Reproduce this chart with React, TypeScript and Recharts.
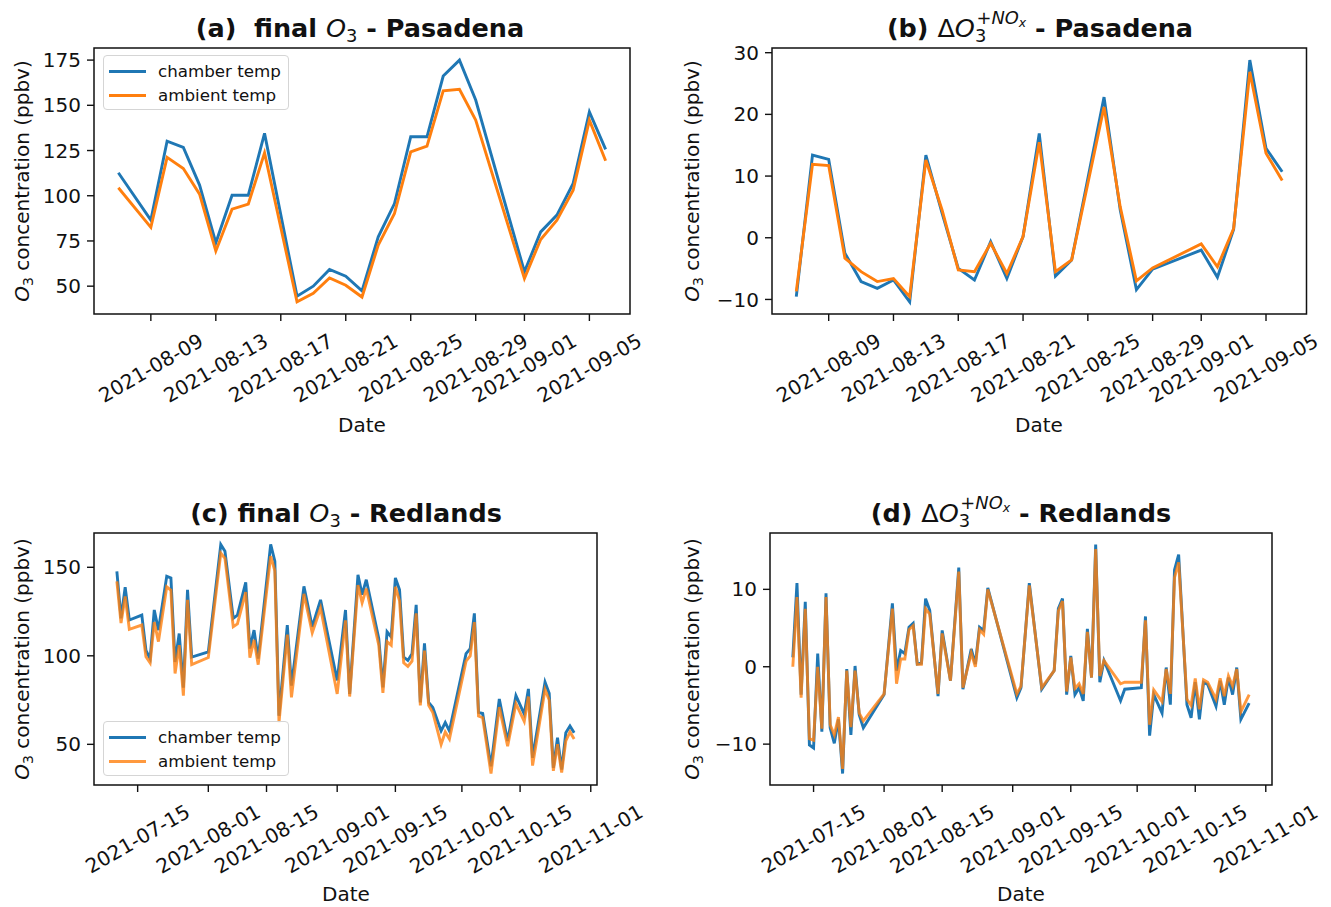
import React from 'react';
import { LineChart, Line, XAxis, YAxis, ReferenceArea } from 'recharts';

const BLUE = '#1f77b4';
const ORANGE = '#ff7f0e';
const INK = '#111';

// (a) final O3 - Pasadena
const pasDatesA = [
  '2021-08-07', '2021-08-09', '2021-08-10', '2021-08-11', '2021-08-12', '2021-08-13', '2021-08-14',
  '2021-08-15', '2021-08-16', '2021-08-18', '2021-08-19', '2021-08-20', '2021-08-21', '2021-08-22',
  '2021-08-23', '2021-08-24', '2021-08-25', '2021-08-26', '2021-08-27', '2021-08-28', '2021-08-29',
  '2021-09-01', '2021-09-02', '2021-09-03', '2021-09-04', '2021-09-05', '2021-09-06',
];
const pasChamberA = [112.7, 86.5, 130.2, 126.7, 105.9, 74, 100.3, 100.3, 134.5, 44.5, 50, 59.2, 55.5, 47.4, 77.3, 95.7, 132.6, 132.6, 166.2, 175, 152.9, 58, 80, 89.3, 106.8, 146.4, 125.6];
const pasAmbientA = [104.4, 82.5, 121.2, 115.1, 100.9, 69.5, 92.6, 95.4, 123.7, 41.3, 46, 54.6, 50.5, 44, 72.7, 90.2, 124.3, 127.4, 158, 158.8, 141.8, 54.3, 75.8, 86.5, 103, 141.8, 119.3];

// (b) delta O3 +NOx - Pasadena
const pasDatesB = [
  '2021-08-07', '2021-08-08', '2021-08-09', '2021-08-10', '2021-08-11', '2021-08-12', '2021-08-13',
  '2021-08-14', '2021-08-15', '2021-08-16', '2021-08-17', '2021-08-18', '2021-08-19', '2021-08-20',
  '2021-08-21', '2021-08-22', '2021-08-23', '2021-08-24', '2021-08-25', '2021-08-26', '2021-08-27',
  '2021-08-28', '2021-08-29', '2021-09-01', '2021-09-02', '2021-09-03', '2021-09-04', '2021-09-05',
  '2021-09-06',
];
const pasChamberB = [-9.55, 13.4, 12.7, -2.5, -7.1, -8.2, -6.85, -10.4, 13.4, 4.0, -4.96, -6.85, -0.65, -6.6, 0.2, 16.9, -6.2, -3.6, 9.6, 22.8, 4.5, -8.4, -5.1, -2, -6.4, 1.35, 28.8, 14.5, 10.7];
const pasAmbientB = [-8.7, 11.9, 11.7, -3.3, -5.5, -7.1, -6.6, -9.55, 12.6, 4.5, -5.2, -5.5, -0.9, -5.8, 0.2, 15.5, -5.5, -3.6, 8.8, 21.2, 5.0, -7.0, -4.9, -1.0, -4.7, 1.5, 26.9, 13.7, 9.3];

// (c) final O3 - Redlands
const redDatesC = [
  '2021-07-10', '2021-07-11', '2021-07-12', '2021-07-13', '2021-07-16', '2021-07-17', '2021-07-18',
  '2021-07-19', '2021-07-20', '2021-07-22', '2021-07-23', '2021-07-24', '2021-07-25', '2021-07-26',
  '2021-07-27', '2021-07-28', '2021-08-01', '2021-08-04', '2021-08-05', '2021-08-07', '2021-08-08',
  '2021-08-10', '2021-08-11', '2021-08-12', '2021-08-13', '2021-08-16', '2021-08-17', '2021-08-18',
  '2021-08-20', '2021-08-21', '2021-08-24', '2021-08-26', '2021-08-28', '2021-09-01', '2021-09-03',
  '2021-09-04', '2021-09-06', '2021-09-07', '2021-09-08', '2021-09-11', '2021-09-12', '2021-09-13',
  '2021-09-14', '2021-09-15', '2021-09-16', '2021-09-17', '2021-09-18', '2021-09-19', '2021-09-20',
  '2021-09-21', '2021-09-22', '2021-09-23', '2021-09-24', '2021-09-26', '2021-09-27', '2021-09-28',
  '2021-10-02', '2021-10-03', '2021-10-04', '2021-10-05', '2021-10-06', '2021-10-08', '2021-10-10',
  '2021-10-12', '2021-10-14', '2021-10-16', '2021-10-17', '2021-10-18', '2021-10-21', '2021-10-22',
  '2021-10-23', '2021-10-24', '2021-10-25', '2021-10-26', '2021-10-27', '2021-10-28',
];
const redChamberC = [
  147.7, 121.2, 138.8, 120.2, 123, 103, 98.4, 125.9, 114.5, 144.9, 144, 96.5, 112.6, 82, 137.3, 99.3,
  102.2, 162.9, 159.1, 121.2, 123, 141.5, 104.1, 114.5, 98.4, 162.9, 153.4, 66.1, 117.4, 83.2, 139.2,
  116.4, 131.6, 86.1, 125.9, 78.5, 145.8, 134.5, 143, 109.8, 82.2, 113.6, 110.7, 144, 137.3, 99.3, 97.4,
  101.2, 128.8, 73.7, 107, 73.7, 70.8, 57.6, 62.3, 57.6, 101.2, 104.1, 124, 68, 67.4, 37.6, 75.6, 51.9,
  77.5, 67.1, 81.3, 42.4, 85.1, 78.8, 36.7, 53.8, 35.8, 56.6, 60.4, 56.6,
];
const redAmbientC = [
  142, 118.5, 133.5, 115, 117.4, 99.5, 96, 119, 108, 139, 137, 90, 106, 77.5, 131.6, 95,
  99, 158, 155, 116.4, 118, 136, 99, 109, 95, 156.3, 148, 62.3, 112, 76.5, 135,
  113, 127, 78.5, 120, 77, 140, 130, 138, 106, 79, 108, 106, 139, 131, 96, 94,
  97, 124, 72, 103, 72, 68, 50, 57, 53, 97, 100, 119, 66, 65, 33.5, 71, 49,
  73, 63, 77, 38, 81, 75, 35, 50, 34, 52, 57, 53,
];

// (d) delta O3 +NOx - Redlands
const redDatesD = [
  '2021-07-10', '2021-07-11', '2021-07-12', '2021-07-13', '2021-07-14', '2021-07-15', '2021-07-16',
  '2021-07-17', '2021-07-18', '2021-07-19', '2021-07-20', '2021-07-21', '2021-07-22', '2021-07-23',
  '2021-07-24', '2021-07-25', '2021-07-26', '2021-07-27', '2021-08-01', '2021-08-03', '2021-08-04',
  '2021-08-05', '2021-08-06', '2021-08-07', '2021-08-08', '2021-08-09', '2021-08-10', '2021-08-11',
  '2021-08-12', '2021-08-14', '2021-08-15', '2021-08-17', '2021-08-19', '2021-08-20', '2021-08-22',
  '2021-08-23', '2021-08-24', '2021-08-25', '2021-08-26', '2021-09-02', '2021-09-03', '2021-09-05',
  '2021-09-08', '2021-09-11', '2021-09-12', '2021-09-13', '2021-09-14', '2021-09-15', '2021-09-16',
  '2021-09-17', '2021-09-18', '2021-09-19', '2021-09-20', '2021-09-21', '2021-09-22', '2021-09-23',
  '2021-09-27', '2021-09-28', '2021-10-02', '2021-10-03', '2021-10-04', '2021-10-05', '2021-10-07',
  '2021-10-08', '2021-10-09', '2021-10-10', '2021-10-11', '2021-10-13', '2021-10-14', '2021-10-15',
  '2021-10-16', '2021-10-17', '2021-10-18', '2021-10-20', '2021-10-21', '2021-10-22', '2021-10-23',
  '2021-10-24', '2021-10-25', '2021-10-26', '2021-10-28',
];
const redChamberD = [
  1.2, 10.8, -3.6, 8.4, -10.1, -10.5, 1.7, -8.4, 9.5, -7.9, -9.9, -6.8, -13.8, -0.3, -8.8, 0.1, -6.2, -7.9,
  -3.6, 8.2, -0.5, 2.1, 1.7, 5.1, 5.6, 0.35, 0.45, 8.8, 7.3, -3.8, 4.7, -1.8, 12.8, -2.9, 2.3, 0.35, 5.1,
  4.7, 10.2, -4.0, -2.7, 10.8, -2.9, -0.5, 7.5, 8.8, -3.6, 1.4, -3.6, -2.7, -4.4, 4.9, -1.4, 15.8, -2.0,
  0.8, -4.4, -2.9, -2.7, 6.5, -8.9, -3.6, -6.0, -0.1, -4.9, 12.5, 14.5, -4.9, -6.6, -2.0, -6.8, -2.0,
  -2.3, -5.1, -1.8, -4.9, -1.4, -3.6, -0.1, -6.8, -4.7,
];
const redAmbientD = [
  0, 9, -4, 7.5, -9.3, -9.5, 0, -8, 9, -7.5, -8.8, -6.5, -13.2, -0.5, -7.8, -0.5, -6, -7,
  -3.5, 7.5, -2.2, 1, 1, 4.8, 5.3, 0.3, 0.3, 7.5, 6.8, -3.5, 4.3, -1.8, 12.3, -2.7, 1.8, 0, 4.8,
  4.2, 10, -3.5, -2.5, 10.5, -2.7, -0.5, 7.2, 8.5, -3.2, 1.2, -2.8, -2.2, -3.5, 4.5, -1.4, 15.2, -1.2,
  0.8, -2.2, -2.0, -2.0, 6.0, -7.5, -3.0, -4.5, -0.3, -3.5, 11.5, 13.5, -4.2, -5.0, -1.5, -5.5, -1.7,
  -2.0, -4.2, -1.5, -3.8, -1.2, -2.5, -0.3, -5.8, -3.6,
];

const pasTicks = ['2021-08-09', '2021-08-13', '2021-08-17', '2021-08-21', '2021-08-25', '2021-08-29', '2021-09-01', '2021-09-05'];
const redTicks = ['2021-07-15', '2021-08-01', '2021-08-15', '2021-09-01', '2021-09-15', '2021-10-01', '2021-10-15', '2021-11-01'];
const yTicksA = [50, 75, 100, 125, 150, 175];
const yTicksB = [-10, 0, 10, 20, 30];
const yTicksC = [50, 100, 150];
const yTicksD = [-10, 0, 10];

const toDay = (s: string) => {
  const [y, m, d] = s.split('-').map(Number);
  return Date.UTC(y, m - 1, d) / 86400000;
};
const fmtDay = (t: number) => new Date(Math.round(t) * 86400000).toISOString().slice(0, 10);
const fmtNum = (v: number) => (v < 0 ? '\u2212' + Math.abs(v) : String(v));

// matplotlib-like 5% auto margins
const pad = (vals: number[]): [number, number] => {
  const lo = Math.min(...vals);
  const hi = Math.max(...vals);
  const m = (hi - lo) * 0.05;
  return [lo - m, hi + m];
};

const DateTick = (props: any) => {
  const { x, y, payload } = props;
  const cy = y + 47;
  return (
    <text x={x} y={cy} textAnchor="middle" dominantBaseline="central" transform={`rotate(-30 ${x} ${cy})`} fontSize={20} fill={INK}>
      {fmtDay(payload.value)}
    </text>
  );
};

interface PanelProps {
  rect: [number, number, number, number];
  dates: string[];
  chamber: number[];
  ambient: number[];
  xTicks: string[];
  yTicks: number[];
  ambientOpacity: number;
}

function Panel({ rect, dates, chamber, ambient, xTicks, yTicks, ambientOpacity }: PanelProps) {
  const [L, T, R, B] = rect;
  const YW = 80, MT = 10, MR = 70, XH = 100;
  const rows = dates.map((d, i) => ({ t: toDay(d), chamber: chamber[i], ambient: ambient[i] }));
  const xDomain = pad(rows.map((r) => r.t));
  const yDomain = pad([...chamber, ...ambient]);
  return (
    <div style={{ position: 'absolute', left: L - YW, top: T - MT }}>
      <LineChart width={YW + (R - L) + MR} height={MT + (B - T) + XH} data={rows} margin={{ top: MT, right: MR, bottom: 0, left: 0 }}>
        <XAxis
          dataKey="t"
          type="number"
          scale="linear"
          domain={xDomain}
          allowDataOverflow
          ticks={xTicks.map(toDay)}
          interval={0}
          height={XH}
          tickSize={7}
          tickMargin={0}
          axisLine={false}
          tickLine={{ stroke: INK, strokeWidth: 1.4 }}
          tick={(p: any) => <DateTick {...p} />}
        />
        <YAxis
          type="number"
          domain={yDomain}
          allowDataOverflow
          ticks={yTicks}
          interval={0}
          width={YW}
          tickSize={7}
          tickMargin={6}
          axisLine={false}
          tickLine={{ stroke: INK, strokeWidth: 1.4 }}
          tick={{ fontSize: 20, fill: INK }}
          tickFormatter={fmtNum}
        />
        <Line type="linear" dataKey="chamber" stroke={BLUE} strokeWidth={2.9} dot={false} isAnimationActive={false} />
        <Line type="linear" dataKey="ambient" stroke={ORANGE} strokeOpacity={ambientOpacity} strokeWidth={2.9} dot={false} isAnimationActive={false} />
        <ReferenceArea x1={xDomain[0]} x2={xDomain[1]} y1={yDomain[0]} y2={yDomain[1]} fill="none" fillOpacity={0} stroke={INK} strokeWidth={1.5} ifOverflow="visible" />
      </LineChart>
    </div>
  );
}

const sub: React.CSSProperties = { fontSize: '0.7em', verticalAlign: '-0.3em', lineHeight: 0, fontWeight: 'normal' };

function O3() {
  return (
    <span style={{ fontWeight: 'normal' }}>
      <i>O</i>
      <span style={sub}>3</span>
    </span>
  );
}

function DeltaO3() {
  return (
    <span style={{ fontWeight: 'normal' }}>
      {'\u0394'}
      <i>O</i>
      <span style={sub}>3</span>
      <span style={{ fontSize: '0.7em', verticalAlign: '0.75em', lineHeight: 0, marginLeft: '-0.55em' }}>
        +<i>NO</i>
        <span style={{ fontSize: '0.7em', verticalAlign: '-0.25em', lineHeight: 0 }}>
          <i>x</i>
        </span>
      </span>
    </span>
  );
}

function Title({ cx, cy, children }: { cx: number; cy: number; children: React.ReactNode }) {
  return (
    <div style={{ position: 'absolute', left: cx - 250, top: cy - 16, width: 500, height: 32, lineHeight: '32px', textAlign: 'center', fontSize: 25.5, fontWeight: 'bold', color: INK, whiteSpace: 'pre' }}>
      {children}
    </div>
  );
}

function YLabel({ cx, cy }: { cx: number; cy: number }) {
  return (
    <div style={{ position: 'absolute', left: cx - 150, top: cy - 14, width: 300, height: 28, lineHeight: '28px', textAlign: 'center', fontSize: 20, color: INK, transform: 'rotate(-90deg)', whiteSpace: 'pre' }}>
      <O3 /> concentration (ppbv)
    </div>
  );
}

function XLabel({ cx, cy }: { cx: number; cy: number }) {
  return (
    <div style={{ position: 'absolute', left: cx - 50, top: cy - 14, width: 100, height: 28, lineHeight: '28px', textAlign: 'center', fontSize: 20, color: INK }}>
      Date
    </div>
  );
}

function LegendBox({ left, top, ambientOpacity }: { left: number; top: number; ambientOpacity: number }) {
  const items = [
    { name: 'chamber temp', color: BLUE, op: 1 },
    { name: 'ambient temp', color: ORANGE, op: ambientOpacity },
  ];
  return (
    <div style={{ position: 'absolute', left, top, width: 186, height: 55, border: '1px solid #d5d5d5', borderRadius: 4, background: 'rgba(255,255,255,0.85)', boxSizing: 'border-box' }}>
      {items.map((it, i) => (
        <div key={it.name} style={{ position: 'absolute', left: 0, top: 3 + i * 24, height: 24, width: '100%' }}>
          <div style={{ position: 'absolute', left: 5, top: 10.5, width: 37, height: 3, background: it.color, opacity: it.op }} />
          <div style={{ position: 'absolute', left: 54, top: 0, height: 24, lineHeight: '24px', fontSize: 16.7, color: INK, whiteSpace: 'pre' }}>{it.name}</div>
        </div>
      ))}
    </div>
  );
}

export default function App() {
  const rectA: [number, number, number, number] = [94, 48, 630, 314];
  const rectB: [number, number, number, number] = [771.5, 48, 1306, 314];
  const rectC: [number, number, number, number] = [94, 533, 597, 785];
  const rectD: [number, number, number, number] = [770, 533, 1272, 785];
  return (
    <div style={{ position: 'absolute', left: 0, top: 0, width: 1331, height: 907, background: '#fff', fontFamily: '"DejaVu Sans", sans-serif', overflow: 'hidden' }}>
      <Panel rect={rectA} dates={pasDatesA} chamber={pasChamberA} ambient={pasAmbientA} xTicks={pasTicks} yTicks={yTicksA} ambientOpacity={1} />
      <Panel rect={rectB} dates={pasDatesB} chamber={pasChamberB} ambient={pasAmbientB} xTicks={pasTicks} yTicks={yTicksB} ambientOpacity={1} />
      <Panel rect={rectC} dates={redDatesC} chamber={redChamberC} ambient={redAmbientC} xTicks={redTicks} yTicks={yTicksC} ambientOpacity={0.8} />
      <Panel rect={rectD} dates={redDatesD} chamber={redChamberD} ambient={redAmbientD} xTicks={redTicks} yTicks={yTicksD} ambientOpacity={0.8} />

      <Title cx={360} cy={28}>
        {'(a)  final '}<O3 />{' - Pasadena'}
      </Title>
      <Title cx={1040} cy={28}>
        {'(b) '}<DeltaO3 />{' - Pasadena'}
      </Title>
      <Title cx={346} cy={513}>
        {'(c) final '}<O3 />{' - Redlands'}
      </Title>
      <Title cx={1021} cy={513}>
        {'(d) '}<DeltaO3 />{' - Redlands'}
      </Title>

      <YLabel cx={22} cy={181} />
      <YLabel cx={692} cy={181} />
      <YLabel cx={22} cy={659} />
      <YLabel cx={692} cy={659} />

      <XLabel cx={362} cy={425} />
      <XLabel cx={1039} cy={425} />
      <XLabel cx={346} cy={894} />
      <XLabel cx={1021} cy={894} />

      <LegendBox left={103} top={55} ambientOpacity={1} />
      <LegendBox left={103} top={721} ambientOpacity={0.8} />
    </div>
  );
}
